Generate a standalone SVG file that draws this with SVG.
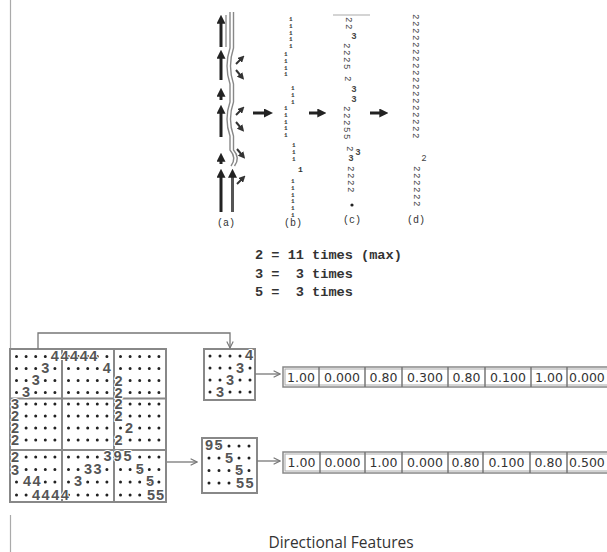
<svg xmlns="http://www.w3.org/2000/svg" width="607" height="552" viewBox="0 0 607 552">
<defs>
<style>
.frame{fill:none;stroke:#888;stroke-width:2}
.dots{fill:none;stroke:#222;stroke-width:3;stroke-linecap:round}
.dg{font-family:"Liberation Sans",Arial,sans-serif;font-size:14.5px;font-weight:bold;fill:#555;text-anchor:middle;dominant-baseline:central;paint-order:stroke;stroke:#fff;stroke-width:2px;stroke-linejoin:round}
.con{fill:none;stroke:#777;stroke-width:1.3}
.blk{fill:none;stroke:#222;stroke-width:3}
.dia{fill:none;stroke:#333;stroke-width:2}
.wav{fill:none;stroke:#888;stroke-width:1.4}
.chain{font-family:"Liberation Mono","Courier New",monospace;font-size:6px;font-weight:bold;fill:#333}
.rot{font-family:"Liberation Mono","Courier New",monospace;font-size:9px;fill:#444;letter-spacing:1.6px}
.up3{font-family:"Liberation Mono","Courier New",monospace;font-size:9px;font-weight:bold;fill:#444;text-anchor:middle}
.lab{font-family:"Liberation Mono","Courier New",monospace;font-size:10px;fill:#333;text-anchor:middle}
.leg{font-family:"Liberation Mono","Courier New",monospace;font-size:13.6px;font-weight:bold;fill:#333;white-space:pre}
.vb{fill:none;stroke:#888;stroke-width:1.5}
.vi{fill:none;stroke:#aaa;stroke-width:1}
.vs{fill:none;stroke:#777;stroke-width:1.5}
.vt{font-family:"DejaVu Sans",Verdana,sans-serif;font-size:12.5px;fill:#333;text-anchor:middle;dominant-baseline:central}
.vl{font-family:"DejaVu Sans",Verdana,sans-serif;font-size:12.5px;fill:#333;text-anchor:start;dominant-baseline:central}
.cap{font-family:"Open Sans","Liberation Sans",sans-serif;font-size:15.5px;fill:#333;text-anchor:middle}
</style>
<marker id="fh" viewBox="0 0 10 10" refX="3" refY="5" markerWidth="3" markerHeight="3" orient="auto" markerUnits="strokeWidth"><path d="M0,0 L10,5 L0,10 z" fill="#222"/></marker>
<marker id="fh2" viewBox="0 0 10 10" refX="3" refY="5" markerWidth="3.5" markerHeight="3.5" orient="auto" markerUnits="strokeWidth"><path d="M0,0 L10,5 L0,10 z" fill="#333"/></marker>
<marker id="oc" viewBox="0 0 10 10" refX="9" refY="5" markerWidth="8" markerHeight="8" orient="auto" markerUnits="userSpaceOnUse"><path d="M1,1 L9,5 L1,9" fill="none" stroke="#777" stroke-width="1.4"/></marker>
</defs>
<rect width="607" height="552" fill="#fff"/>

<path d="M10.5 0V349M10.5 515V552" stroke="#aaa" stroke-width="1.2" fill="none"/>

<g id="panel-a">
<path class="blk" marker-end="url(#fh)" d="M221 47V21"/>
<path class="blk" marker-end="url(#fh)" d="M221 80V56"/>
<path class="blk" marker-end="url(#fh)" d="M221 100V94"/>
<path class="blk" marker-end="url(#fh)" d="M221 137V111"/>
<path class="blk" marker-end="url(#fh)" d="M221 164V159"/>
<path class="blk" marker-end="url(#fh)" d="M221 212V175"/>
<path d="M232.5 212V175" fill="none" stroke="#555" stroke-width="3" marker-end="url(#fh)"/>
<path d="M226 15V47" stroke="#999" stroke-width="1.5" fill="none"/>
<path class="wav" d="M230 12V48Q224 66 230 84V102Q224 119 230 136V150Q237 158 231 166"/>
<path class="wav" d="M233.5 12V48Q227.5 66 233.5 84V102Q227.5 119 233.5 136V150Q240.5 158 234.5 166"/>
<path class="dia" marker-end="url(#fh2)" d="M236 64L241 59"/>
<path class="dia" marker-end="url(#fh2)" d="M236 70L241 76"/>
<path class="dia" marker-end="url(#fh2)" d="M236 115L241 110"/>
<path class="dia" marker-end="url(#fh2)" d="M236 122L241 128"/>
<path class="dia" marker-end="url(#fh2)" d="M237 149L242 155"/>
<path class="dia" marker-end="url(#fh2)" d="M237 184L242 179"/>
<text class="lab" x="226" y="226">(a)</text>
</g>

<g id="panel-b">
<text class="chain" x="289" y="21">1<tspan x="289" dy="6.8">1</tspan><tspan x="289" dy="6.8">1</tspan><tspan x="289" dy="6.8">1</tspan><tspan x="289" dy="6.8">1</tspan></text>
<text class="chain" x="284" y="56">1<tspan x="284" dy="6.8">1</tspan><tspan x="284" dy="6.8">1</tspan><tspan x="284" dy="6.8">1</tspan></text>
<text class="chain" x="291" y="90">1<tspan x="291" dy="6.8">1</tspan><tspan x="291" dy="6.8">1</tspan></text>
<text class="chain" x="284" y="110">1<tspan x="284" dy="6.8">1</tspan><tspan x="284" dy="6.8">1</tspan><tspan x="284" dy="6.8">1</tspan><tspan x="284" dy="6.8">1</tspan></text>
<text class="chain" x="292" y="147">1<tspan x="292" dy="6.8">1</tspan><tspan x="292" dy="6.8">1</tspan></text>
<text class="chain" x="298" y="172" style="font-size:8px">1</text>
<text class="chain" x="291" y="183">1<tspan x="291" dy="6.8">1</tspan><tspan x="291" dy="6.8">1</tspan><tspan x="291" dy="6.8">1</tspan><tspan x="291" dy="6.8">1</tspan><tspan x="291" dy="6.8">1</tspan></text>
<text class="lab" x="293" y="226">(b)</text>
</g>

<g id="panel-c">
<path d="M333 15H370" stroke="#aaa" stroke-width="1.2" fill="none"/>
<text class="rot" transform="translate(346,17) rotate(90)">22</text>
<text class="up3" x="354" y="39">3</text>
<text class="rot" transform="translate(344,43) rotate(90)">2225</text>
<text class="rot" transform="translate(345,76) rotate(90)">2</text>
<text class="up3" x="354" y="92">3</text>
<text class="up3" x="354" y="102">3</text>
<text class="rot" transform="translate(344,106) rotate(90)">22255</text>
<text class="rot" transform="translate(347,146) rotate(90)">2</text>
<text class="up3" x="351" y="161">3</text>
<text class="up3" x="358" y="155">3</text>
<text class="rot" transform="translate(348,166) rotate(90)">2222</text>
<circle cx="352" cy="205" r="1.6" fill="#222"/>
<text class="lab" x="352" y="223">(c)</text>
</g>

<g id="panel-d">
<text class="rot" transform="translate(413,14) rotate(90)">222222222222222222</text>
<text class="up3" x="424" y="161" style="font-weight:normal">2</text>
<text class="rot" transform="translate(414,166) rotate(90)">222222</text>
<text class="lab" x="416" y="223">(d)</text>
</g>

<g id="legend">
<text class="leg" x="255" y="259">2 = 11 times (max)</text>
<text class="leg" x="255" y="278">3 =  3 times</text>
<text class="leg" x="255" y="296">5 =  3 times</text>
</g>

<g id="grid">
<rect class="frame" x="10" y="349" width="156" height="153"/>
<path class="frame" d="M62 349V502M114 349V502M10 398.5H166M10 450H166"/>
<path class="dots" stroke-dasharray="0 9.6" d="M16.5 356.5H55M68.5 356.5H107M120.5 356.5H159M16.5 368.5H55M68.5 368.5H107M120.5 368.5H159M16.5 380.5H55M68.5 380.5H107M120.5 380.5H159M16.5 392.5H55M68.5 392.5H107M120.5 392.5H159M16.5 404H55M68.5 404H107M120.5 404H159M16.5 416H55M68.5 416H107M120.5 416H159M16.5 428H55M68.5 428H107M120.5 428H159M16.5 440H55M68.5 440H107M120.5 440H159M16.5 457H55M68.5 457H107M120.5 457H159M16.5 469.5H55M68.5 469.5H107M120.5 469.5H159M16.5 482H55M68.5 482H107M120.5 482H159M16.5 495H55M68.5 495H107M120.5 495H159"/>
<text class="dg" x="54.9 64.5 74.1 83.7 93.3" y="355.5">44444</text>
<text class="dg" x="45.3" y="367.5">3</text>
<text class="dg" x="106.9" y="368">4</text>
<text class="dg" x="35.7" y="379.5">3</text>
<text class="dg" x="26.1" y="391.5">3</text>
<text class="dg" x="118.5 118.5 118.5 118.5 129 118.5" y="380.5 392.5 404 416 428 440">222222</text>
<text class="dg" x="15 15 15 15 15 15" y="404 416 428 440 457 469.5">322223</text>
<text class="dg" x="107.5 117.5 127.5" y="456">395</text>
<text class="dg" x="88 97.6" y="468.5">33</text>
<text class="dg" x="139.7" y="468.5">5</text>
<text class="dg" x="27 36.6 36 45.6 55.2 64.8" y="481 481 494.5 494.5 494.5 494.5">444444</text>
<text class="dg" x="78.1" y="481">3</text>
<text class="dg" x="150 151 160" y="481 494.5 494.5">555</text>
</g>

<g id="cell-top">
<rect class="frame" x="204" y="349" width="51" height="51"/>
<path class="dots" stroke-dasharray="0 10" d="M210 356H250.1M210 368H250.1M210 380H250.1M210 392H250.1"/>
<text class="dg" x="249" y="355">4</text>
<text class="dg" x="240" y="367.5">3</text>
<text class="dg" x="230" y="379.5">3</text>
<text class="dg" x="220" y="391.5">3</text>
</g>

<g id="cell-bottom">
<rect class="frame" x="202" y="438" width="55" height="55"/>
<path class="dots" stroke-dasharray="0 10" d="M209 446H249.1M209 458H249.1M209 470.5H249.1M209 483H249.1"/>
<text class="dg" x="209 218.5" y="445">95</text>
<text class="dg" x="229" y="457.5">5</text>
<text class="dg" x="239 240 249.5" y="470 482.5 482.5">555</text>
</g>

<g id="vector-1">
<rect class="vb" x="283" y="367" width="330" height="20"/>
<rect class="vi" x="285" y="369" width="326" height="16"/>
<path class="vs" d="M319 367V387M365 367V387M402 367V387M448 367V387M485 367V387M531 367V387M567 367V387"/>
<text class="vt" x="301" y="377">1.00</text>
<text class="vt" x="342" y="377">0.000</text>
<text class="vt" x="383.5" y="377">0.80</text>
<text class="vt" x="425" y="377">0.300</text>
<text class="vt" x="466.5" y="377">0.80</text>
<text class="vt" x="508" y="377">0.100</text>
<text class="vt" x="549" y="377">1.00</text>
<text class="vl" x="569" y="377">0.000</text>
</g>

<g id="vector-2">
<rect class="vb" x="283" y="452" width="330" height="21"/>
<rect class="vi" x="285" y="454" width="326" height="17"/>
<path class="vs" d="M320 452V473M365 452V473M402 452V473M448 452V473M483 452V473M530 452V473M567 452V473"/>
<text class="vt" x="301.5" y="462.5">1.00</text>
<text class="vt" x="342.5" y="462.5">0.000</text>
<text class="vt" x="383.5" y="462.5">1.00</text>
<text class="vt" x="425" y="462.5">0.000</text>
<text class="vt" x="465.5" y="462.5">0.80</text>
<text class="vt" x="506.5" y="462.5">0.100</text>
<text class="vt" x="548.5" y="462.5">0.80</text>
<text class="vl" x="569" y="462.5">0.500</text>
</g>

<g id="connectors">
<path class="blk" marker-end="url(#fh)" d="M253 113H266.7"/>
<path class="blk" marker-end="url(#fh)" d="M309 113H320"/>
<path class="blk" marker-end="url(#fh)" d="M370 113H382"/>
<path class="con" marker-end="url(#oc)" d="M38 349V333H230V348"/>
<path class="con" marker-end="url(#oc)" d="M167 462H197"/>
<path class="con" marker-end="url(#oc)" d="M255 374H280"/>
<path class="con" marker-end="url(#oc)" d="M257 461H280"/>
</g>

<text class="cap" x="341" y="548">Directional Features</text>
</svg>
